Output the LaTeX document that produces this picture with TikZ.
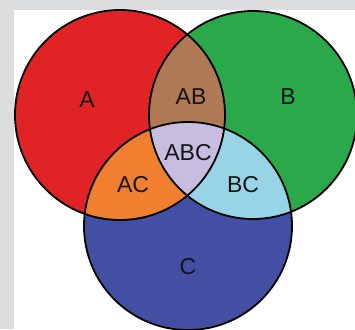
\documentclass[tikz,border=0pt]{standalone}
\usepackage{fontspec}
\setmainfont{Liberation Sans}
\definecolor{bggray}{RGB}{220,221,223}
\definecolor{cA}{RGB}{224,36,38}
\definecolor{cB}{RGB}{43,168,74}
\definecolor{cC}{RGB}{67,79,163}
\definecolor{cAB}{RGB}{176,121,85}
\definecolor{cAC}{RGB}{240,128,48}
\definecolor{cBC}{RGB}{151,212,230}
\definecolor{cABC}{RGB}{198,189,224}
\begin{document}
\begin{tikzpicture}[x=1pt,y=-1pt,
  lab/.style={font=\fontsize{23}{27}\selectfont, text=black!92, inner sep=0pt},
  rim/.style={draw=black, line width=1.8pt}]
\useasboundingbox (0,0) rectangle (355,329);
\clip (0,0) rectangle (355,329);
\fill[bggray] (0,0) rectangle (355,329);
\fill[white] (14,10) rectangle (355,329);
\def\circA{(120,115) circle[radius=105pt]}
\def\circB{(253,115) circle[radius=104pt]}
\def\circC{(188,226) circle[radius=104pt]}
\fill[cA] \circA;
\fill[cB] \circB;
\fill[cC] \circC;
\begin{scope}\clip \circA; \fill[cAB] \circB; \end{scope}
\begin{scope}\clip \circA; \fill[cAC] \circC; \end{scope}
\begin{scope}\clip \circB; \fill[cBC] \circC; \end{scope}
\begin{scope}\clip \circA; \clip \circB; \fill[cABC] \circC; \end{scope}
\draw[rim] \circA;
\draw[rim] \circB;
\draw[rim] \circC;
\node[lab] (lA) at (87,100) {A};
\node[lab] (lAB) at (191,97) {AB};
\node[lab] (lB) at (288,97) {B};
\node[lab] (lABC) at (188,153) {ABC};
\node[lab] (lAC) at (133,185) {AC};
\node[lab] (lBC) at (243,185) {BC};
\node[lab] (lC) at (188,267) {C};
\end{tikzpicture}
\end{document}
